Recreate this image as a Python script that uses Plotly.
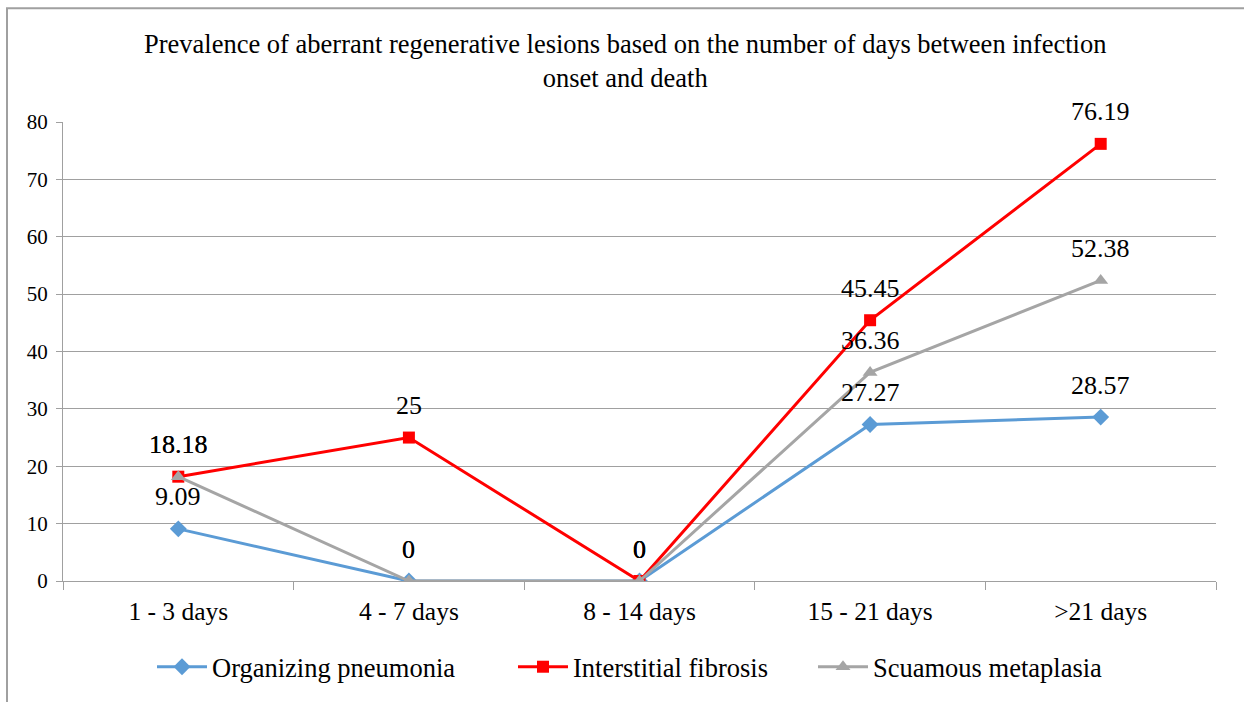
import plotly.graph_objects as go

categories = ["1 - 3 days", "4 - 7 days", "8 - 14 days", "15 - 21 days", ">21 days"]
organizing = [9.09, 0, 0, 27.27, 28.57]
interstitial = [18.18, 25, 0, 45.45, 76.19]
scuamous = [18.18, 0, 0, 36.36, 52.38]
y_ticks = [0, 10, 20, 30, 40, 50, 60, 70, 80]

FONT = "Liberation Serif, Times New Roman, serif"

series = [
    ("Organizing pneumonia", organizing, "#5B9BD5", "diamond", 13, "legend"),
    ("Interstitial fibrosis", interstitial, "#FF0000", "square", 12, "legend2"),
    ("Scuamous metaplasia", scuamous, "#A5A5A5", "triangle-up", 13, "legend3"),
]

fig = go.Figure()
annotations = []
for name, vals, color, sym, ms, lg in series:
    fig.add_trace(go.Scatter(
        x=categories, y=vals, name=name, mode="lines+markers",
        line=dict(color=color, width=3),
        marker=dict(symbol=sym, size=ms, color=color),
        legend=lg,
    ))
    for c, v in zip(categories, vals):
        annotations.append(dict(
            x=c, y=v, xref="x", yref="y", text=f"{v:g}", showarrow=False,
            yshift=32, font=dict(family=FONT, size=26, color="black"),
        ))

annotations.append(dict(
    x=(625 - 63) / 1153, y=(582 - 61) / 460, xref="paper", yref="paper",
    text="Prevalence of aberrant regenerative lesions based on the number of days between infection<br>onset and death",
    showarrow=False, xanchor="center", yanchor="middle",
    font=dict(family=FONT, size=26.5, color="black"),
))


def px_x(p):
    return (p - 63) / 1153


def leg(xpx):
    return dict(orientation="h", x=px_x(xpx), xanchor="left",
                y=(582 - 667) / 460, yanchor="middle",
                font=dict(family=FONT, size=26.5), itemwidth=50,
                bgcolor="rgba(0,0,0,0)")


fig.update_layout(
    width=1244, height=702,
    margin=dict(l=63, r=28, t=122, b=120),
    paper_bgcolor="white", plot_bgcolor="white",
    font=dict(family=FONT, size=24, color="black"),
    annotations=annotations,
    showlegend=True,
    legend=leg(152), legend2=leg(513), legend3=leg(813),
    shapes=[dict(type="rect", xref="paper", yref="paper",
                 x0=px_x(7), x1=1.2, y0=-0.5, y1=(582 - 8) / 460,
                 line=dict(color="#A0A0A0", width=2), layer="below")],
)

fig.update_xaxes(
    type="category", categoryorder="array", categoryarray=categories,
    range=[-0.5, len(categories) - 0.5],
    showgrid=False, showline=True, linecolor="#A0A0A0", linewidth=1,
    ticks="outside", tickson="boundaries", ticklen=8, tickcolor="#A0A0A0",
    ticklabelstandoff=7, tickfont=dict(family=FONT, size=25.5),
)
fig.update_yaxes(
    range=[0, 80], tickvals=y_ticks, showgrid=True, gridcolor="#A0A0A0", gridwidth=1,
    showline=True, linecolor="#A0A0A0", linewidth=1, zeroline=False,
    ticks="outside", ticklen=6, tickcolor="#A0A0A0", ticklabelstandoff=4,
    tickfont=dict(family=FONT, size=21),
)

fig.write_html("out.html", config={"displayModeBar": False},
               post_script="document.body.style.margin='0';")
